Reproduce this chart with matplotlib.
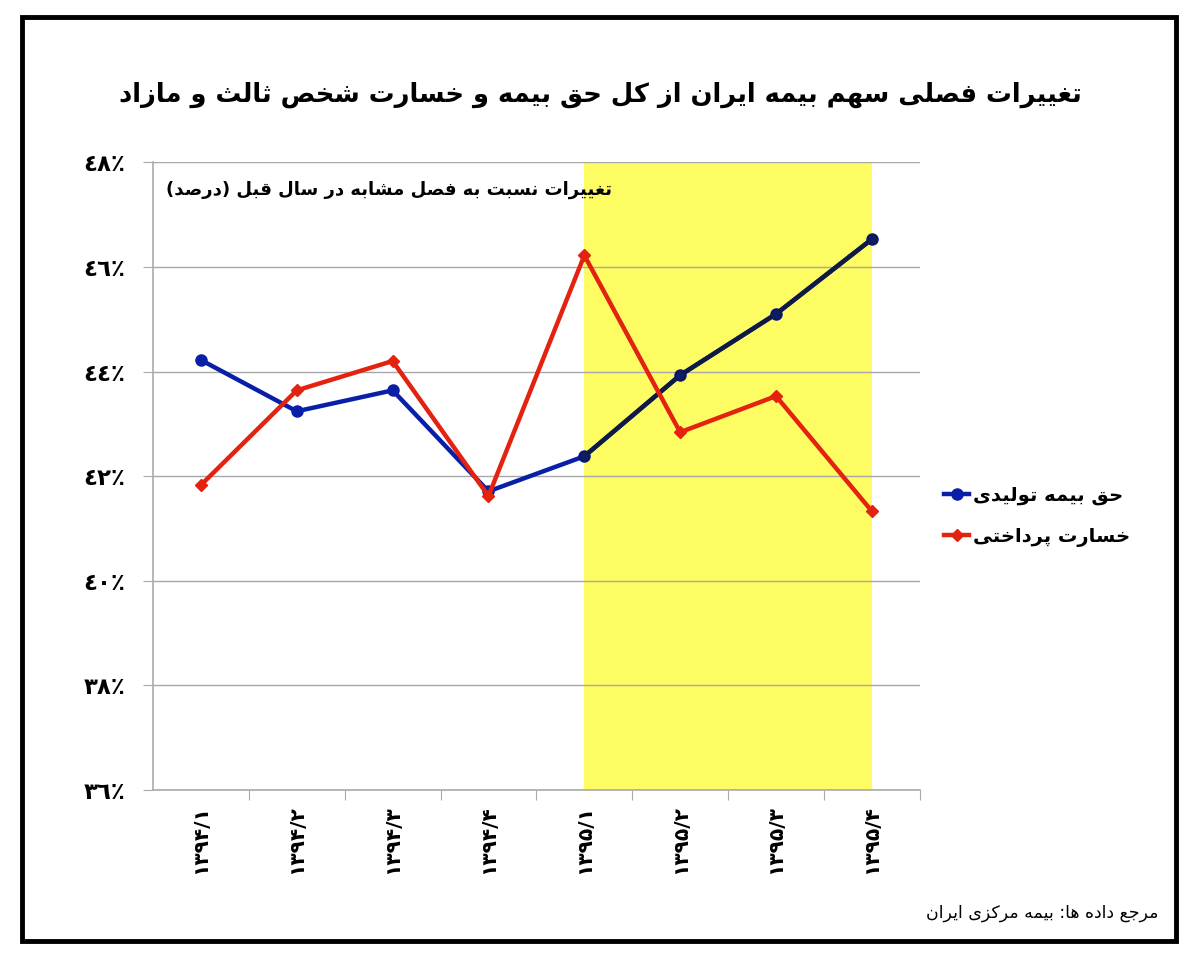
import matplotlib
matplotlib.use("Agg")
import matplotlib.pyplot as plt
from matplotlib.lines import Line2D
from matplotlib.patches import Rectangle

# data
quarters = ["۱۳۹۴/۱", "۱۳۹۴/۲", "۱۳۹۴/۳", "۱۳۹۴/۴", "۱۳۹۵/۱", "۱۳۹۵/۲", "۱۳۹۵/۳", "۱۳۹۵/۴"]
premium = [44.22, 43.24, 43.64, 41.71, 42.38, 43.93, 45.10, 46.53]
claims = [41.83, 43.64, 44.20, 41.62, 46.22, 42.84, 43.53, 41.33]
y_ticks = [36, 38, 40, 42, 44, 46, 48]
y_labels = ["٣٦٪", "٣٨٪", "٤٠٪", "٤٢٪", "٤٤٪", "٤٦٪", "٤٨٪"]
highlight = (4, 7)  # 1395 quarters

title = "تغییرات فصلی سهم بیمه ایران از کل حق بیمه و خسارت شخص ثالث و مازاد"
subtitle = "تغییرات نسبت به فصل مشابه در سال قبل (درصد)"
premium_name = "حق بیمه تولیدی"
claims_name = "خسارت پرداختی"
source = "مرجع داده ها: بیمه مرکزی ایران"

# minimal persian shaping: isolated, final, initial, medial
FORMS = {
    "ا": (0xFE8D, 0xFE8E), "آ": (0xFE81, 0xFE82),
    "ب": (0xFE8F, 0xFE90, 0xFE91, 0xFE92), "پ": (0xFB56, 0xFB57, 0xFB58, 0xFB59),
    "ت": (0xFE95, 0xFE96, 0xFE97, 0xFE98), "ث": (0xFE99, 0xFE9A, 0xFE9B, 0xFE9C),
    "ج": (0xFE9D, 0xFE9E, 0xFE9F, 0xFEA0), "ح": (0xFEA1, 0xFEA2, 0xFEA3, 0xFEA4),
    "خ": (0xFEA5, 0xFEA6, 0xFEA7, 0xFEA8), "د": (0xFEA9, 0xFEAA),
    "ذ": (0xFEAB, 0xFEAC), "ر": (0xFEAD, 0xFEAE), "ز": (0xFEAF, 0xFEB0),
    "س": (0xFEB1, 0xFEB2, 0xFEB3, 0xFEB4), "ش": (0xFEB5, 0xFEB6, 0xFEB7, 0xFEB8),
    "ص": (0xFEB9, 0xFEBA, 0xFEBB, 0xFEBC), "ع": (0xFEC9, 0xFECA, 0xFECB, 0xFECC),
    "غ": (0xFECD, 0xFECE, 0xFECF, 0xFED0), "ف": (0xFED1, 0xFED2, 0xFED3, 0xFED4),
    "ق": (0xFED5, 0xFED6, 0xFED7, 0xFED8), "ک": (0xFB8E, 0xFB8F, 0xFB90, 0xFB91),
    "ل": (0xFEDD, 0xFEDE, 0xFEDF, 0xFEE0), "م": (0xFEE1, 0xFEE2, 0xFEE3, 0xFEE4),
    "ن": (0xFEE5, 0xFEE6, 0xFEE7, 0xFEE8), "ه": (0xFEE9, 0xFEEA, 0xFEEB, 0xFEEC),
    "و": (0xFEED, 0xFEEE), "ی": (0xFBFC, 0xFBFD, 0xFBFE, 0xFBFF),
}


def fa(text):
    out = []
    for i, c in enumerate(text):
        if c not in FORMS:
            out.append(c)
            continue
        f = FORMS[c]
        prev = text[i - 1] if i > 0 else ""
        nxt = text[i + 1] if i + 1 < len(text) else ""
        jp = prev in FORMS and len(FORMS[prev]) == 4
        jn = nxt in FORMS and len(f) == 4
        if jp and jn:
            g = f[3]
        elif jp:
            g = f[1]
        elif jn:
            g = f[2]
        else:
            g = f[0]
        out.append(chr(g))
    vis = "".join(reversed(out))
    return vis.translate(str.maketrans("()", ")("))


plt.rcParams["font.family"] = ["DejaVu Sans"]

fig = plt.figure(figsize=(12, 9.6), dpi=100)
ax = fig.add_axes([0.1275, 0.177, 0.639, 0.654])

x = list(range(len(quarters)))
ax.axvspan(highlight[0], highlight[1], color="#fdfc62", zorder=0, lw=0)

ax.plot(x, premium, color="#0a1fa8", lw=3.2, marker="o", ms=8, zorder=3)
ax.plot(x[4:], premium[4:], color="#0e1a42", lw=3.2, marker="o", ms=7,
        mfc="#0e1a6a", mec="#0e1a42", zorder=3.5)
ax.plot(x, claims, color="#e3220f", lw=3.2, marker="D", ms=6, zorder=4)

ax.set_xlim(-0.5, len(quarters) - 0.5)
ax.set_ylim(36, 48)
ax.set_yticks(y_ticks)
ax.set_yticklabels(y_labels, fontsize=16.5, fontweight="bold")
ax.set_xticks([i + 0.5 for i in x])
ax.set_xticklabels([])
ax.set_xticks(x, minor=True)
ax.set_xticklabels(quarters, minor=True, rotation=90, fontsize=14.5, fontweight="bold")
ax.tick_params(axis="x", which="minor", length=0, pad=11)
ax.tick_params(axis="x", which="major", length=7, color="#aaaaaa")
ax.tick_params(axis="y", length=7, color="#aaaaaa", pad=13)

ax.set_axisbelow(True)
ax.yaxis.grid(True, color="#a8a8a8", lw=1)
for s in ["top", "right"]:
    ax.spines[s].set_visible(False)
for s in ["left", "bottom"]:
    ax.spines[s].set_color("#aaaaaa")
    ax.spines[s].set_linewidth(1.2)

fig.text(0.5, 0.901, fa(title), ha="center", va="center", fontsize=18.5, fontweight="bold")
fig.text(0.51, 0.802, fa(subtitle), ha="right", va="center", fontsize=13, fontweight="bold")
fig.text(0.965, 0.049, fa(source), ha="right", va="center", fontsize=12.5)

handles = [
    Line2D([], [], color="#0a1fa8", lw=3.2, marker="o", ms=8),
    Line2D([], [], color="#e3220f", lw=3.2, marker="D", ms=6),
]
fig.legend(handles, [fa(premium_name), fa(claims_name)], loc="center left",
           bbox_to_anchor=(0.772, 0.462), frameon=False, handlelength=1.3,
           handletextpad=0.2, labelspacing=1.1, prop={"size": 14, "weight": "bold"})

fig.add_artist(Rectangle((0.018, 0.02), 0.962, 0.962, transform=fig.transFigure,
                         fill=False, ec="black", lw=3.5))

fig.savefig("out.png", dpi=100)
